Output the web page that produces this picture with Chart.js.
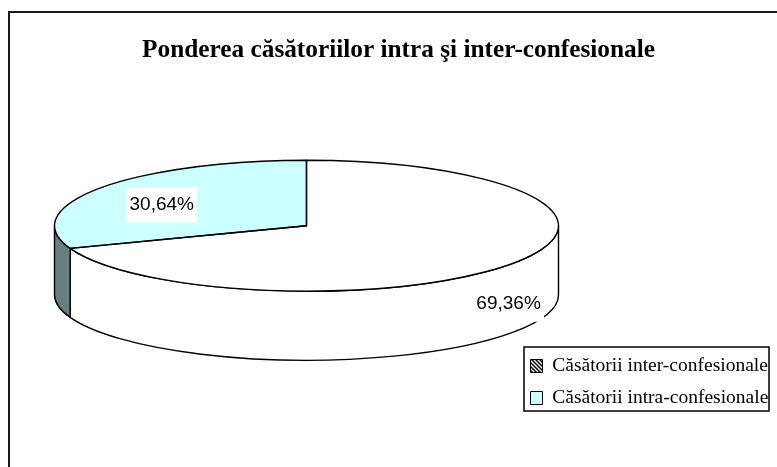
<!DOCTYPE html>
<html>
<head>
<meta charset="utf-8">
<style>html,body{margin:0;padding:0;background:#fff}canvas{display:block}</style>
<script src="https://cdn.jsdelivr.net/npm/chart.js@4"></script>
</head>
<body>
<canvas id="c" width="777" height="467"></canvas>
<script>
const categories = ['Căsătorii inter-confesionale', 'Căsătorii intra-confesionale'];
const values = [69.36, 30.64];
const titleText = 'Ponderea căsătoriilor intra şi inter-confesionale';
const faceColors = ['#ffffff', '#ccffff'];
const sideColors = ['#ffffff', '#667f7f'];

function hatch() {
  const c = document.createElement('canvas');
  c.width = c.height = 4;
  const g = c.getContext('2d');
  g.fillStyle = '#fff'; g.fillRect(0, 0, 4, 4);
  g.strokeStyle = '#000'; g.lineWidth = 1.5;
  g.beginPath();
  g.moveTo(-1, -1); g.lineTo(5, 5);
  g.moveTo(-1, 3); g.lineTo(1, 5);
  g.moveTo(3, -1); g.lineTo(5, 1);
  g.stroke();
  return c;
}
const ctx0 = document.getElementById('c').getContext('2d');
const legendFills = [ctx0.createPattern(hatch(), 'repeat'), '#ccffff'];

const SQUASH = 65.5 / 252, DEPTH = 69, LINE = 1.4;
const labelRadial = [0.977, 0.70];
const labelDrop = [42, 5.5];

const pie3d = {
  id: 'pie3d',
  afterLayout(chart) {
    const t = chart.titleBlock;
    t.left += 92; t.right += 92;
    const l = chart.legend;
    l.left = 518; l.top = 343.75; l.right = 777; l.bottom = 440;
  },
  beforeDraw(chart) {
    const g = chart.ctx;
    g.save();
    g.strokeStyle = '#1a1a1a'; g.lineWidth = 2;
    g.beginPath(); g.moveTo(9, 467); g.lineTo(9, 12); g.lineTo(777, 12); g.stroke();
    g.restore();
  },
  beforeDatasetsDraw(chart) {
    const g = chart.ctx;
    const arcs = chart.getDatasetMeta(0).data;
    g.save();
    g.strokeStyle = '#000'; g.lineWidth = LINE; g.lineJoin = 'round';
    arcs.forEach((a, i) => {
      const rx = a.outerRadius, ry = rx * SQUASH;
      const s = Math.max(a.startAngle, 0), e = Math.min(a.endAngle, Math.PI);
      if (e <= s) return;
      g.beginPath();
      g.ellipse(a.x, a.y, rx, ry, 0, s, e);
      g.ellipse(a.x, a.y + DEPTH, rx, ry, 0, e, s, true);
      g.closePath();
      g.fillStyle = sideColors[i];
      g.fill(); g.stroke();
    });
    g.restore();
  },
  beforeDatasetDraw(chart) {
    const g = chart.ctx, a = chart.getDatasetMeta(0).data[0];
    g.save();
    g.translate(a.x, a.y); g.scale(1, SQUASH); g.translate(-a.x, -a.y);
  },
  afterDatasetDraw(chart) { chart.ctx.restore(); },
  afterDatasetsDraw(chart) {
    const g = chart.ctx;
    const arcs = chart.getDatasetMeta(0).data;
    g.save();
    g.strokeStyle = '#000'; g.lineWidth = LINE; g.lineJoin = 'round';
    arcs.forEach(a => {
      const rx = a.outerRadius, ry = rx * SQUASH;
      g.beginPath();
      g.moveTo(a.x, a.y);
      g.ellipse(a.x, a.y, rx, ry, 0, a.startAngle, a.endAngle);
      g.closePath();
      g.stroke();
    });
    g.font = '19px "Liberation Sans"';
    g.textAlign = 'center'; g.textBaseline = 'middle';
    arcs.forEach((a, i) => {
      const mid = (a.startAngle + a.endAngle) / 2;
      const x = a.x + Math.cos(mid) * a.outerRadius * labelRadial[i];
      const y = a.y + Math.sin(mid) * a.outerRadius * SQUASH * labelRadial[i] + labelDrop[i];
      g.fillStyle = '#fff';
      g.fillRect(x - 35.5, y - 17.5, 71, 35);
      g.fillStyle = '#000';
      g.fillText(values[i].toFixed(2).replace('.', ',') + '%', x, y);
    });
    g.restore();
  },
  afterDraw(chart) {
    const g = chart.ctx;
    g.save();
    g.strokeStyle = '#000'; g.lineWidth = 1.5;
    g.strokeRect(524, 347, 245, 64);
    g.restore();
  }
};

new Chart(ctx0, {
  type: 'pie',
  data: {
    labels: categories,
    datasets: [{ data: values, backgroundColor: faceColors, borderWidth: 0, clip: false }]
  },
  options: {
    responsive: false,
    animation: false,
    radius: 252,
    layout: { padding: { left: 0, right: 164, top: 0, bottom: 88 } },
    plugins: {
      tooltip: { enabled: false },
      title: {
        display: true,
        text: titleText,
        color: '#000',
        font: { family: '"Liberation Serif"', size: 25.3, weight: 'bold' },
        padding: { top: 35, bottom: 7 }
      },
      legend: {
        position: 'chartArea',
        align: 'start',
        labels: {
          color: '#000',
          boxWidth: 12, boxHeight: 13, padding: 12.5,
          font: { family: '"Liberation Serif"', size: 19.5 },
          generateLabels: () => categories.map((t, i) => ({
            text: t, fillStyle: legendFills[i], strokeStyle: '#000', lineWidth: 1, index: i, hidden: false
          }))
        }
      }
    }
  },
  plugins: [pie3d]
});
</script>
</body>
</html>
